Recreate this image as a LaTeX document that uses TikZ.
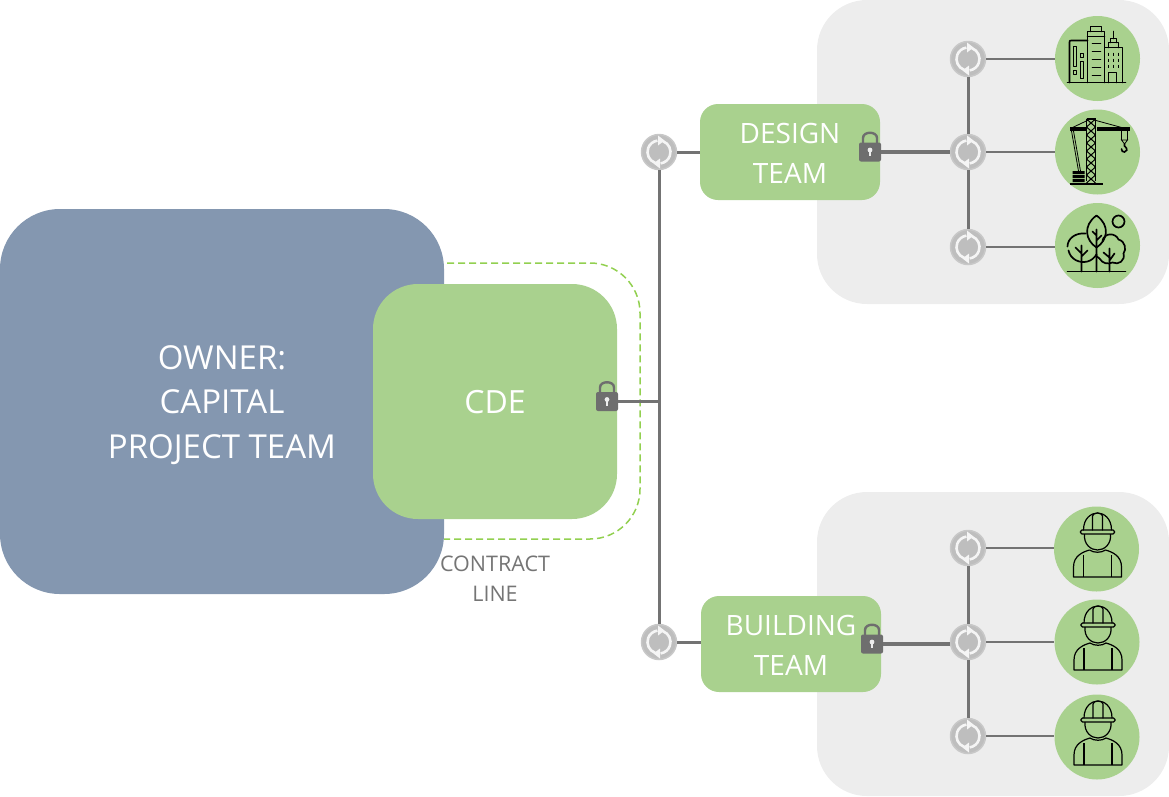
\documentclass[tikz,border=0pt]{standalone}
\usepackage{fontspec}
\setmainfont{Open Sans}
\definecolor{ownerblue}{HTML}{8497B0}
\definecolor{boxgreen}{HTML}{A9D18E}
\definecolor{panelgrey}{HTML}{EDEDED}
\definecolor{linegrey}{HTML}{737373}
\definecolor{lockgrey}{HTML}{6E6E6E}
\definecolor{syncgrey}{HTML}{BEBEBE}
\definecolor{dashgreen}{HTML}{92D050}
\tikzset{
  x=1pt,y=-1pt,
  panel/.style={fill=panelgrey,rounded corners=50pt,minimum width=352pt,minimum height=304pt,inner sep=0pt},
  teambox/.style={fill=boxgreen,rounded corners=18pt,minimum width=180pt,minimum height=96pt,inner sep=0pt},
  teamtext/.style={text=white,align=center,font=\fontsize{28}{40}\selectfont},
  syncnode/.style={circle,fill=syncgrey,draw=syncgrey!85!white,line width=1.5pt,minimum size=35pt,inner sep=0pt},
  locknode/.style={fill=lockgrey,rounded corners=2pt,minimum width=22pt,minimum height=19pt,inner sep=0pt},
  iconcircle/.style={circle,fill=boxgreen,minimum size=85pt,inner sep=0pt},
  link/.style={draw=linegrey,line width=3pt},
  heavylink/.style={draw=linegrey,line width=3.6pt},
  thinlink/.style={draw=linegrey,line width=2.6pt},
  ic/.style={draw=black,line width=1.7pt,fill=none,line cap=round,line join=round},
  syncarrows/.pic={
    \draw[white!92!gray,line width=2.6pt] (110:11.5) arc (110:262:11.5);
    \draw[white!92!gray,line width=2.6pt] (-70:11.5) arc (-70:82:11.5);
    \fill[white!92!gray] (5.5,-11.5) -- (-1,-16.5) -- (-1,-6.5) -- cycle;
    \fill[white!92!gray] (-5.5,11.5) -- (1,6.5) -- (1,16.5) -- cycle;
  },
  lockmark/.pic={
    \draw[lockgrey,line width=2.4pt] (-7,-8) -- (-7,-14) .. controls (-7,-21) and (7,-21) .. (7,-14) -- (7,-8);
    \fill[panelgrey] (0,-2) circle (2.4pt);
    \fill[panelgrey] (-1.2,-2) rectangle (1.2,4);
  },
  buildingicon/.pic={
    \draw[ic] (-30,24) -- (28,24);
    \draw[ic] (-10,24) -- (-10,-27) -- (7,-27) -- (7,24);
    \draw[ic] (-7,-27) -- (-7,-32) -- (4,-32) -- (4,-27);
    \draw[ic] (-10,-22) -- (7,-22);
    \foreach \yy in {-15,-7,1,9,17} {\draw[ic] (-5,\yy) -- (3,\yy);}
    \draw[ic] (-10,-18) -- (-26,-18) .. controls (-28,-18) .. (-28,-16) -- (-28,24);
    \draw[ic] (-24,-12) rectangle (-21,8);
    \draw[ic] (-17,-5) rectangle (-14,-1);
    \draw[ic] (-24,12) rectangle (-21,16);
    \draw[ic] (-17,3) rectangle (-14,20);
    \draw[ic] (8,-11) -- (25,-11) -- (25,24);
    \draw[ic] (11,-11) -- (11,-16) -- (21,-16) -- (21,-11);
    \draw[ic] (13,-16) -- (13,-20) -- (19,-20) -- (19,-16);
    \draw[ic] (16,-20) -- (16,-27);
    \foreach \xx in {11,16,21} {\foreach \yy in {-6,0,6} {\draw[black,line width=1.6pt] (\xx,\yy) -- (\xx,\yy+3);}}
    \draw[ic] (11,24) -- (11,14) -- (19,14) -- (19,24);
  },
  craneicon/.pic={
    \fill[black] (-28,-25) rectangle (-12,-21);
    \fill[black] (-1,-25) rectangle (32,-21);
    \draw[black,line width=1.4pt] (-11,-33) -- (-11,29) (-2,-33) -- (-2,29) (-11,-33) -- (-2,-33);
    \foreach \yy in {-33,-25,-17,-9,-1,7,15,23} {\draw[black,line width=1pt] (-11,\yy) -- (-2,\yy+8) (-2,\yy) -- (-11,\yy+8);}
    \draw[black,line width=1.8pt] (-28,32) -- (5,32);
    \draw[black,line width=.8pt] (-7,-33) -- (-26,-24) (-7,-33) -- (26,-24);
    \draw[black,line width=.8pt] (-26,-21) -- (-19,19) (-24,-21) -- (-17,19);
    \fill[black] (-25,19) rectangle (-13,22) (-25,23) rectangle (-13,26) (-25,27) rectangle (-13,30);
    \draw[black,line width=.8pt] (24,-21) -- (24,-12) (30,-21) -- (30,-12) (24,-12) -- (27,-8) -- (30,-12) -- cycle;
    \draw[black,line width=1.6pt,line cap=round] (27,-8) -- (27,-6) .. controls (31,-3) and (29,0) .. (27,0) .. controls (25,0) and (24,-1) .. (24,-3);
  },
  treeicon/.pic={
    \draw[ic] (-30,26) -- (28,26);
    \draw[ic] (21,-24) circle (6pt);
    \draw[ic] (-1,2) .. controls (-12,-5) and (-15,-20) .. (-1,-30) .. controls (13,-20) and (10,-5) .. (-1,2);
    \draw[ic] (-1,-16) -- (-1,26) (-1,-10) -- (-5,-14) (-1,-5) -- (4,-10);
    \draw[ic] (-16,0) -- (-16,26) (-16,8) -- (-22,2) (-16,11) -- (-10,5);
    \draw[ic] (12,3) -- (12,26) (12,12) -- (6,7) (12,15) -- (17,8);
    \draw[ic] (-30,1) .. controls (-30,-7) and (-22,-13) .. (-12,-12);
    \draw[ic] (-29,5) .. controls (-27,14) and (-18,18) .. (-10,16) .. controls (-6,15) and (-3,12) .. (-1,9);
    \draw[ic] (5,-5) .. controls (7,-13) and (18,-13) .. (21,-6) .. controls (28,-4) and (29,4) .. (26,8) .. controls (28,15) and (21,20) .. (15,17) .. controls (10,19) and (5,18) .. (2,13) .. controls (-2,10) .. (-1,9);
  },
  workericon/.pic={
    \draw[black,line width=1.2pt,line cap=round,line join=round] (-13,-19) .. controls (-13,-31) and (-5,-36) .. (1,-36) .. controls (7,-36) and (15,-31) .. (15,-19);
    \draw[black,line width=1.2pt,line cap=round,line join=round] (-4,-19) -- (-4,-33) .. controls (-4,-37) and (6,-37) .. (6,-33) -- (6,-19);
    \draw[black,line width=1.2pt,rounded corners=1.5pt] (-16,-19) rectangle (18,-15);
    \draw[black,line width=1.2pt] (-12,-15) .. controls (-13,-5) and (-6,1) .. (1,1) .. controls (8,1) and (15,-5) .. (14,-15);
    \draw[black,line width=1.2pt,line join=round] (-7,1) .. controls (-14,3) and (-23,7) .. (-23,18) -- (-23,28) -- (25,28) -- (25,18) .. controls (25,7) and (16,3) .. (9,1);
    \draw[black,line width=1.2pt] (-7,1) .. controls (-3,4) and (5,4) .. (9,1);
    \draw[black,line width=1.2pt] (-13,6) -- (-13,28) (15,6) -- (15,28);
  }
}
\begin{document}
\begin{tikzpicture}
\useasboundingbox (0,0) rectangle (1169,796);
% panels
\node[panel] (designpanel) at (993,152) {};
\node[panel] (buildpanel) at (993,644) {};
% owner + dashed contract line + CDE
\node[fill=ownerblue,rounded corners=60pt,minimum width=444pt,minimum height=385pt,inner sep=0pt] (owner) at (222,401.5) {};
\node[text=white,align=center,font=\fontsize{33}{44.5}\selectfont] (ownertext) at (222,405) {OWNER:\\CAPITAL\\PROJECT TEAM};
\coordinate (dashA) at (447,263);
\coordinate (dashB) at (640,263);
\coordinate (dashC) at (640,539);
\coordinate (dashD) at (444,539);
\draw[dashgreen,line width=1.5pt,dash pattern=on 7pt off 4pt,rounded corners=50pt] (dashA) -- (dashB) -- (dashC) -- (dashD);
\node[fill=boxgreen,rounded corners=45pt,minimum width=244pt,minimum height=235pt,inner sep=0pt] (cde) at (495,401.5) {};
\node[text=white,font=\fontsize{32}{36}\selectfont] (cdetext) at (495,402.5) {CDE};
\node[text=lockgrey!95,align=center,font=\fontsize{21.5}{30}\selectfont] (contract) at (495,579) {CONTRACT\\LINE};
% team boxes
\node[teambox] (design) at (790,152) {};
\node[teamtext] (designtext) at (790,153) {DESIGN\\TEAM};
\node[teambox] (building) at (791,644) {};
\node[teamtext] (buildingtext) at (791,645) {BUILDING\\TEAM};
% sync nodes
\node[syncnode] (s1) at (659,152) {};
\node[syncnode] (s2) at (659,642) {};
\node[syncnode] (d1) at (968,59) {};
\node[syncnode] (d2) at (968,152) {};
\node[syncnode] (d3) at (968,247) {};
\node[syncnode] (b1) at (968,548) {};
\node[syncnode] (b2) at (968,642) {};
\node[syncnode] (b3) at (968,736) {};
\foreach \n in {s1,s2,d1,d2,d3,b1,b2,b3} {\pic at (\n) {syncarrows};}
% locks
\node[locknode] (lcde) at (607,401.5) {};
\pic at (lcde) {lockmark};
\node[locknode] (ldesign) at (870,152) {};
\pic at (ldesign) {lockmark};
\node[locknode] (lbuild) at (872,644) {};
\pic at (lbuild) {lockmark};
% icon circles
\node[iconcircle] (i1) at (1097.5,58.5) {};
\node[iconcircle] (i2) at (1097.5,152) {};
\node[iconcircle] (i3) at (1097.5,245.5) {};
\node[iconcircle] (i4) at (1096.5,549) {};
\node[iconcircle] (i5) at (1097,642) {};
\node[iconcircle] (i6) at (1097,737) {};
\pic at (i1) {buildingicon};
\pic at (i2) {craneicon};
\pic at (i3) {treeicon};
\pic at (i4) {workericon};
\pic at (i5) {workericon};
\pic at (i6) {workericon};
% connectors
\coordinate (trunk) at (659,401.5);
\draw[link] (s1) -- (s2);
\draw[link] (lcde) -- (trunk);
\draw[link] (s1) -- (design);
\draw[link] (s2) -- (s2 -| building.west);
\draw[heavylink] (ldesign) -- (d2);
\draw[heavylink] (lbuild.east) -- (lbuild.east -| b2.west);
\draw[link] (d1) -- (d2);
\draw[link] (d2) -- (d3);
\draw[link] (b1) -- (b2);
\draw[link] (b2) -- (b3);
\draw[thinlink] (d1) -- (i1.west |- d1);
\draw[thinlink] (d2) -- (i2);
\draw[thinlink] (d3) -- (i3.west |- d3);
\draw[thinlink] (b1) -- (i4.west |- b1);
\draw[thinlink] (b2) -- (i5.west |- b2);
\draw[thinlink] (b3) -- (i6.west |- b3);
\end{tikzpicture}
\end{document}
